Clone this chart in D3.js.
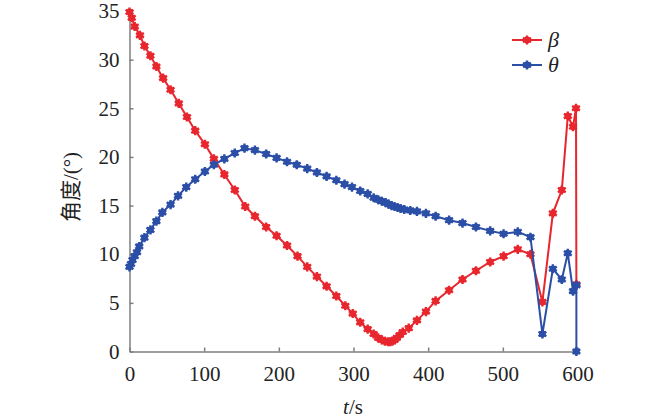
<!DOCTYPE html>
<html>
<head>
<meta charset="utf-8">
<script src="https://cdn.jsdelivr.net/npm/d3@7"></script>
<style>
  body { margin: 0; background: #fff; }
  .serif { font-family: "Liberation Serif", "DejaVu Serif", serif; }
  .axis path, .axis line { stroke: #7f7f7f; stroke-width: 1.5; }
  .axis text { font-size: 21px; fill: #222; }
</style>
</head>
<body>
<div id="chart"></div>
<script>
let w = 650;
let h = 420;

// beta (red)
let beta_t = [0, 3, 7, 14, 20, 28, 36, 45, 55, 66, 77, 88, 101, 113, 127, 141, 155, 168, 183, 197,
    211, 225, 238, 251, 264, 277, 289, 299, 309, 319, 327, 333, 338, 342, 346, 349, 352, 355, 358, 362,
    366, 374, 385, 397, 410, 428, 446, 464, 483, 501, 520, 537, 553, 567, 579, 587, 594, 598, 598.5];
let beta_v = [34.9, 34.3, 33.4, 32.5, 31.4, 30.4, 29.3, 28.1, 26.9, 25.5, 24.1, 22.7, 21.3, 19.8, 18.2, 16.6, 14.9, 13.9, 12.8, 11.9,
    10.9, 9.8, 8.7, 7.7, 6.7, 5.7, 4.7, 3.9, 3.0, 2.3, 1.8, 1.4, 1.2, 1.05, 1.0, 1.0, 1.05, 1.2, 1.4, 1.7,
    2.0, 2.4, 3.2, 4.1, 5.2, 6.3, 7.4, 8.3, 9.2, 9.8, 10.5, 10.0, 5.1, 14.2, 16.6, 24.2, 23.1, 25.0, 6.9];

// theta (blue)
let theta_t = [0, 2, 4, 7, 10, 13, 20, 28, 36, 44, 55, 65, 76, 88, 101, 113, 127, 141, 154, 168,
    183, 197, 211, 224, 238, 251, 264, 277, 288, 298, 309, 319, 327, 333, 338, 343, 347, 351, 355, 359,
    363, 368, 376, 385, 397, 410, 428, 446, 464, 483, 501, 520, 537, 553, 567, 579, 587, 594, 598.5, 598.5];
let theta_v = [8.7, 9.0, 9.4, 9.8, 10.2, 10.8, 11.7, 12.5, 13.4, 14.3, 15.1, 16.0, 16.9, 17.7, 18.5, 19.2, 19.8, 20.4, 20.9, 20.7,
    20.3, 19.9, 19.5, 19.2, 18.8, 18.4, 18.0, 17.6, 17.2, 16.9, 16.5, 16.2, 15.8, 15.6, 15.45, 15.3, 15.15, 15.0, 14.9, 14.8,
    14.7, 14.6, 14.5, 14.4, 14.2, 13.9, 13.5, 13.2, 12.8, 12.4, 12.1, 12.3, 11.75, 1.8, 8.5, 7.4, 10.1, 6.2, 6.8, 0];

let x_ticks = [0, 100, 200, 300, 400, 500, 600];
let y_ticks = [0, 5, 10, 15, 20, 25, 30, 35];
let series_names = ["β", "θ"];
let series_colors = ["#e8262d", "#2b4ea6"];

let x_scale = d3.scaleLinear()
    .domain([0, 600])
    .range([129.5, 577.5]);

let y_scale = d3.scaleLinear()
    .domain([0, 35])
    .range([351.5, 11]);

let svg = d3.select("#chart")
    .append("svg")
    .attr("width", w)
    .attr("height", h);

let x_axis = d3.axisBottom(x_scale)
    .tickValues(x_ticks)
    .tickSizeInner(-4)
    .tickSizeOuter(0)
    .tickPadding(10);

let y_axis = d3.axisLeft(y_scale)
    .tickValues(y_ticks)
    .tickSizeInner(-4)
    .tickSizeOuter(0)
    .tickPadding(10);

let gx = svg.append("g")
    .attr("class", "axis")
    .attr("transform", "translate(0," + y_scale(0) + ")")
    .call(x_axis);
gx.attr("font-family", null);
gx.selectAll("text")
    .attr("class", "serif")
    .attr("dy", "0.95em");

let gy = svg.append("g")
    .attr("class", "axis")
    .attr("transform", "translate(" + x_scale(0) + ",0)")
    .call(y_axis);
gy.attr("font-family", null);
gy.selectAll("text").attr("class", "serif");

// axis titles
let xt = svg.append("text")
    .attr("class", "serif")
    .attr("x", 353)
    .attr("y", 414)
    .attr("text-anchor", "middle")
    .style("font-size", "21px")
    .attr("fill", "#222");
xt.append("tspan").style("font-style", "italic").text("t");
xt.append("tspan").text("/s");

svg.append("text")
    .attr("transform", "translate(78,187) rotate(-90)")
    .attr("text-anchor", "middle")
    .style("font-family", "\"Liberation Serif\", \"Noto Sans CJK SC\", serif")
    .style("font-size", "21px")
    .attr("fill", "#222")
    .text("角度/(°)");

let marker = function (g, color) {
    g.append("circle")
        .attr("r", 3.4)
        .attr("fill", color);
    g.append("path")
        .attr("d", d3.symbol().type(d3.symbolAsterisk).size(58)())
        .attr("stroke", color)
        .attr("stroke-width", 2.4)
        .attr("fill", "none");
};

let draw_series = function (ts, vs, color) {
    let pts = ts.map((t, i) => [t, vs[i]]);
    let line = d3.line()
        .x(d => x_scale(d[0]))
        .y(d => y_scale(d[1]));
    svg.append("path")
        .datum(pts)
        .attr("d", line)
        .attr("fill", "none")
        .attr("stroke", color)
        .attr("stroke-width", 2);
    svg.append("g")
        .selectAll("g")
        .data(pts)
        .enter()
        .append("g")
        .attr("transform", d => "translate(" + x_scale(d[0]) + "," + y_scale(d[1]) + ")")
        .each(function () { marker(d3.select(this), color); });
};

draw_series(beta_t, beta_v, series_colors[0]);
draw_series(theta_t, theta_v, series_colors[1]);

// legend
let legend = svg.append("g")
    .selectAll("g")
    .data(series_names)
    .enter()
    .append("g")
    .attr("transform", (d, i) => "translate(512," + (40 + i * 25) + ")");

legend.append("line")
    .attr("x1", 0)
    .attr("x2", 30)
    .attr("stroke", (d, i) => series_colors[i])
    .attr("stroke-width", 2);

legend.each(function (d, i) {
    let g = d3.select(this).append("g").attr("transform", "translate(15,0)");
    marker(g, series_colors[i]);
});

legend.append("text")
    .attr("class", "serif")
    .attr("x", 36)
    .attr("y", 7)
    .style("font-size", "22px")
    .style("font-style", "italic")
    .attr("fill", "#222")
    .text(d => d);
</script>
</body>
</html>
